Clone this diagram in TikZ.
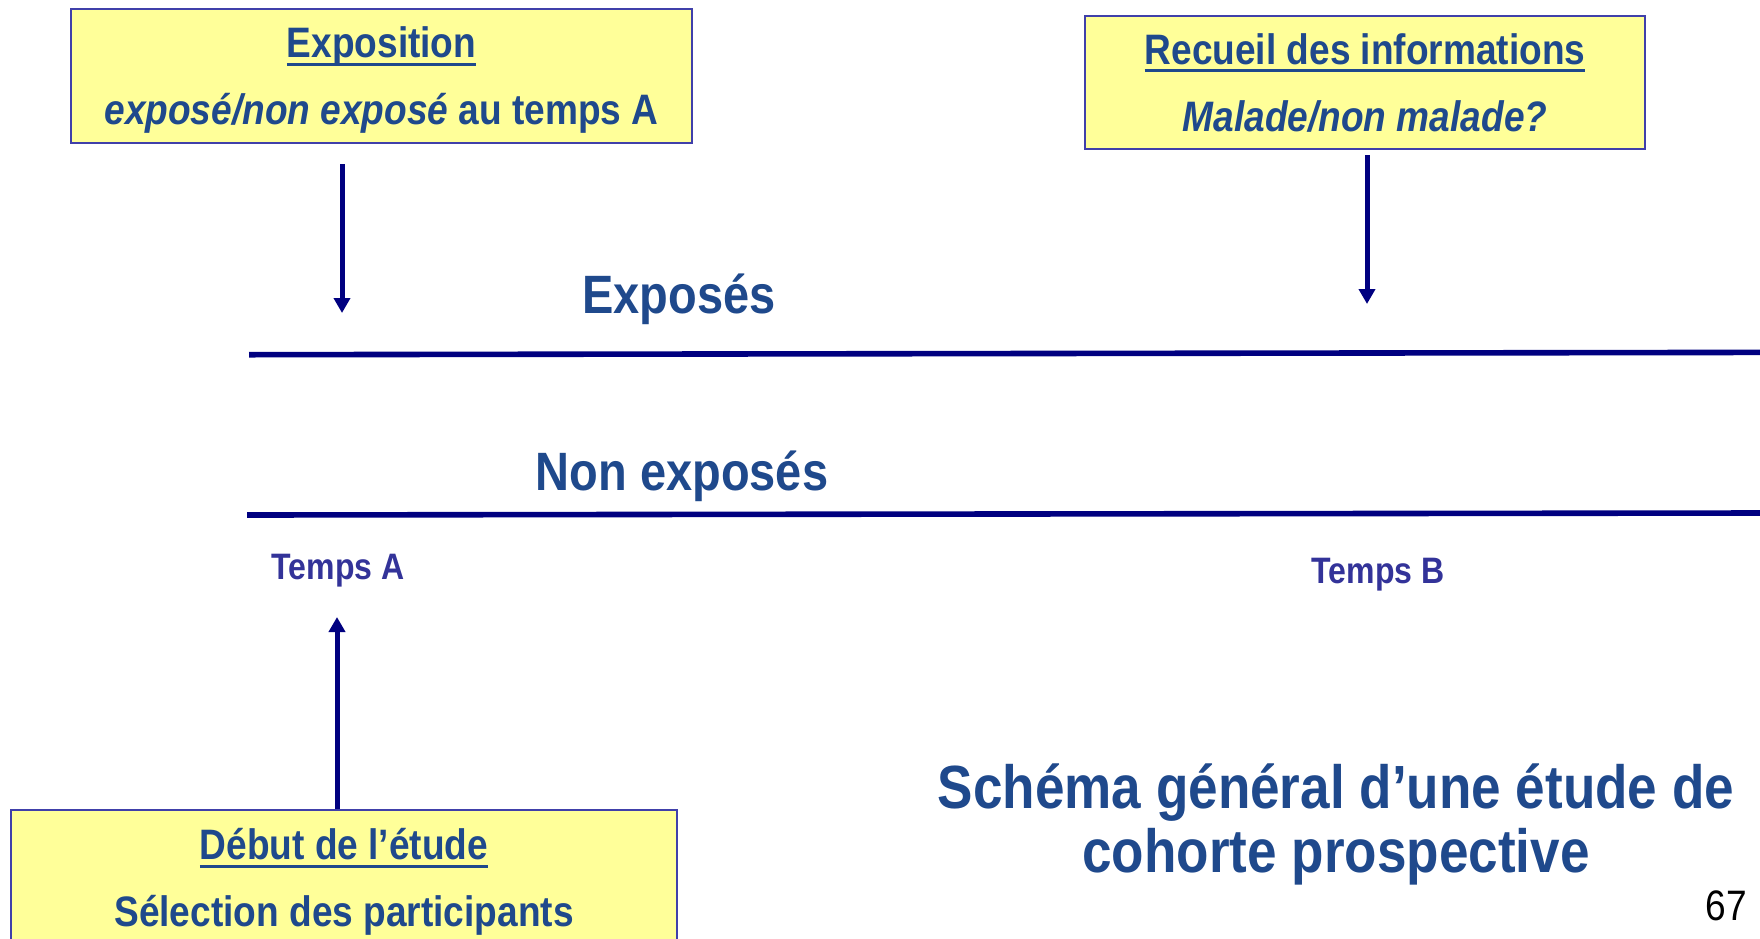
\documentclass[tikz,border=0pt]{standalone}
\usepackage{fontspec}
\setmainfont{Liberation Sans}[FakeStretch=0.87]
\usetikzlibrary{arrows.meta}
\newsavebox{\boitesoul}
\newcommand{\souligne}[1]{\sbox\boitesoul{#1}\rlap{\rule[-4.1pt]{\wd\boitesoul}{1.6pt}}\usebox\boitesoul}
\newcommand{\sansprof}[1]{\raisebox{0pt}[\height][0pt]{#1}}
\definecolor{bleutxt}{RGB}{31,73,140}
\definecolor{bleutemps}{RGB}{51,51,153}
\definecolor{bleufleche}{RGB}{0,0,128}
\definecolor{jaune}{RGB}{255,255,153}
\definecolor{bord}{RGB}{64,64,170}
\tikzset{
	cadre/.style={draw=bord,fill=jaune,line width=1pt,inner sep=0pt,align=center,text=bleutxt,font=\fontsize{21.3}{33.5}\selectfont\bfseries},
	fleche/.style={draw=bleufleche,line width=2.5pt,-{Triangle[length=7.5pt,width=8pt]}},
	axe/.style={draw=bleufleche,line width=2.8pt},
	groupe/.style={inner sep=0pt,text=bleutxt,font=\fontsize{27}{30}\selectfont\bfseries},
	temps/.style={inner sep=0pt,text=bleutemps,font=\fontsize{18.4}{20}\selectfont\bfseries},
}
\begin{document}
\begin{tikzpicture}[x=0.5pt,y=-0.5pt]
	\useasboundingbox (0,0) rectangle (1760,938);
	\clip (0,0) rectangle (1760,938);
	\node[cadre,minimum width=310.5pt,minimum height=67pt] (expo) at (381.5,76) {\souligne{Exposition}\\\sansprof{\textit{exposé/non exposé} au temps A}};
	\node[cadre,minimum width=280pt,minimum height=66.5pt] (recueil) at (1365,82.5) {\souligne{Recueil des informations}\\\textit{Malade/non malade?}};
	\node[cadre,minimum width=333pt,minimum height=67.5pt] (debut) at (344,877.5) {\souligne{Début de l’étude}\\\sansprof{Sélection des participants}};
	\node[groupe] (exposes) at (679,299.5) {Exposés};
	\node[groupe] (nonexposes) at (682,476) {Non exposés};
	\node[temps] (tempsA) at (338,570.5) {Temps A};
	\node[temps] (tempsB) at (1378,574.5) {Temps B};
	\node[align=center,text=bleutxt,inner sep=0pt,font=\fontsize{30.5}{32}\selectfont\bfseries] (titre) at (1336,824.5) {Schéma général d’une étude de\\cohorte prospective};
	\node[inner sep=0pt,font=\fontsize{21.3}{24}\selectfont] (page) at (1726,906) {67};
	\coordinate (pointeA) at (342,313);
	\coordinate (pointeB) at (1367,304);
	\coordinate (pointeD) at (337,617);
	\draw[fleche] ([yshift=-10pt]expo.south -| pointeA) -- (pointeA);
	\draw[fleche] ([yshift=-2.5pt]recueil.south -| pointeB) -- (pointeB);
	\draw[fleche] (debut.north -| pointeD) -- (pointeD);
	\draw[axe] (249,354.7) -- (1760,352.4);
	\draw[axe] (247,515) -- (1760,513);
\end{tikzpicture}
\end{document}
